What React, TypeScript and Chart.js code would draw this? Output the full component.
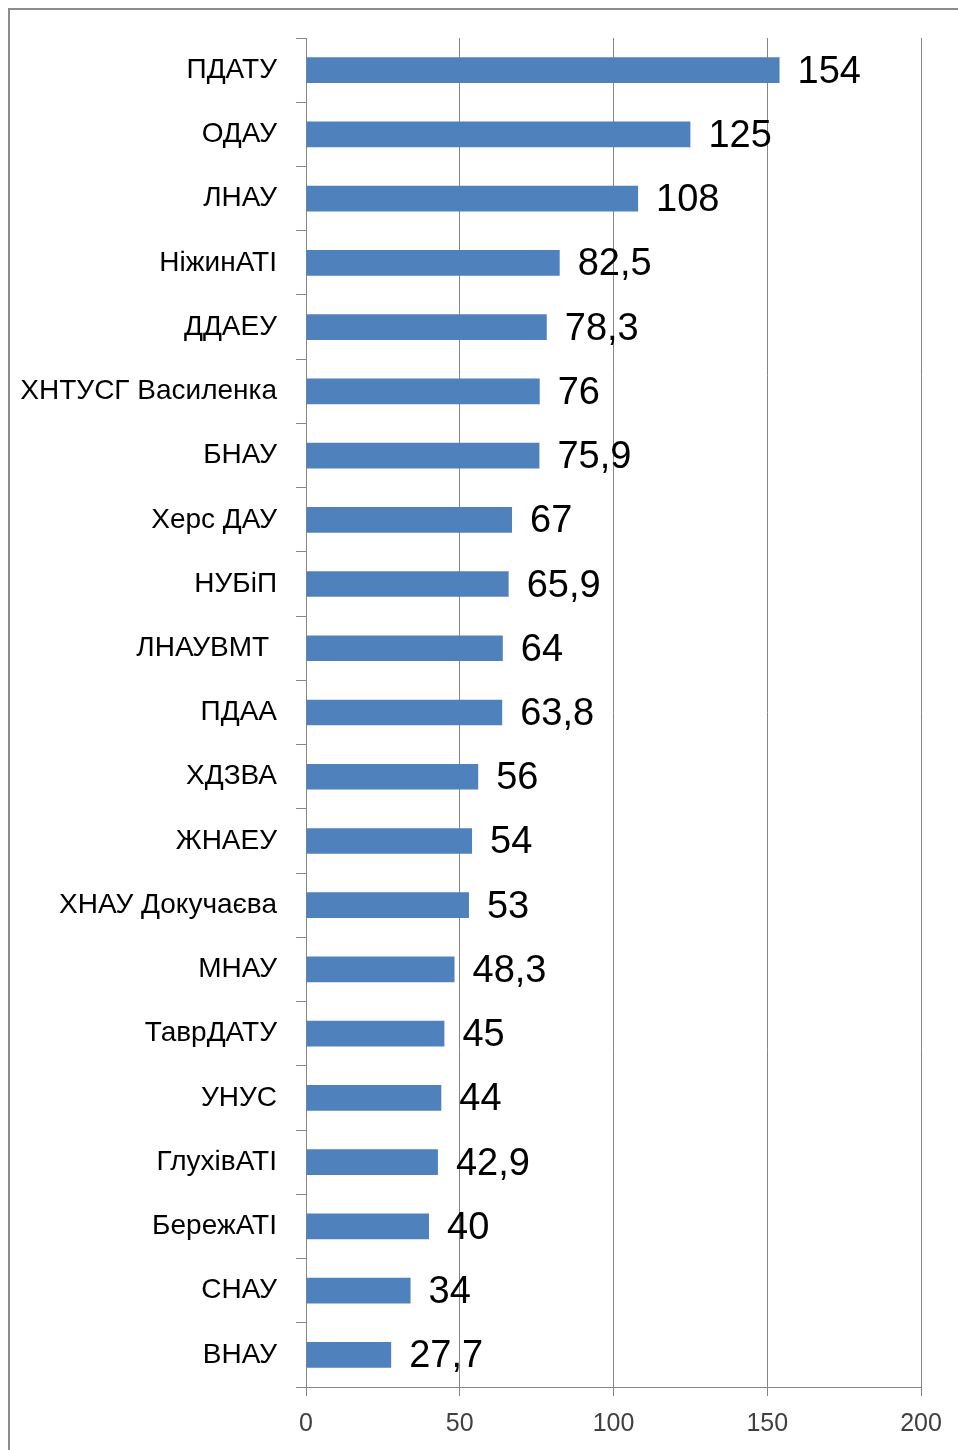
import React, { useEffect, useRef } from "react";
import { Chart, registerables } from "chart.js";

Chart.register(...registerables);

const categories: string[] = [
  "ПДАТУ",
  "ОДАУ",
  "ЛНАУ",
  "НіжинАТІ",
  "ДДАЕУ",
  "ХНТУСГ Василенка",
  "БНАУ",
  "Херс ДАУ",
  "НУБіП",
  "ЛНАУВМТ ",
  "ПДАА",
  "ХДЗВА",
  "ЖНАЕУ",
  "ХНАУ Докучаєва",
  "МНАУ",
  "ТаврДАТУ",
  "УНУС",
  "ГлухівАТІ",
  "БережАТІ",
  "СНАУ",
  "ВНАУ",
];

const values: number[] = [
  154, 125, 108, 82.5, 78.3, 76, 75.9, 67, 65.9, 64, 63.8, 56, 54, 53, 48.3, 45,
  44, 42.9, 40, 34, 27.7,
];

const xTicks: number[] = [0, 50, 100, 150, 200];

const FONT = "'Liberation Sans', Arial, sans-serif";
const GRID = "#868686";

const formatValue = (v: number) => String(v).replace(".", ",");

const valueLabels = {
  id: "valueLabels",
  afterDatasetsDraw(chart: any) {
    const ctx = chart.ctx;
    const meta = chart.getDatasetMeta(0);
    ctx.save();
    ctx.font = `38px ${FONT}`;
    ctx.fillStyle = "#000000";
    ctx.textAlign = "left";
    ctx.textBaseline = "middle";
    meta.data.forEach((bar: any, i: number) => {
      ctx.fillText(formatValue(values[i]), bar.x + 18, bar.y + 2);
    });
    ctx.restore();
  },
};

export default function App() {
  const ref = useRef<HTMLCanvasElement | null>(null);

  useEffect(() => {
    if (!ref.current) return;
    const chart = new Chart(ref.current, {
      type: "bar",
      data: {
        labels: categories,
        datasets: [
          {
            data: values,
            backgroundColor: "#4F81BD",
            borderWidth: 0,
            categoryPercentage: 1,
            barPercentage: 0.4,
          },
        ],
      },
      options: {
        indexAxis: "y",
        responsive: false,
        animation: false,
        devicePixelRatio: 1,
        layout: { padding: { top: 28, right: 37, left: 0, bottom: 0 } },
        plugins: {
          legend: { display: false },
          tooltip: { enabled: false },
          title: { display: false },
        },
        scales: {
          x: {
            type: "linear",
            min: 0,
            max: 200,
            afterBuildTicks: (scale: any) => {
              scale.ticks = xTicks.map((v) => ({ value: v }));
            },
            afterFit: (scale: any) => {
              scale.height = 63;
              scale.paddingLeft = 0;
              scale.paddingRight = 0;
            },
            ticks: {
              color: "#404040",
              font: { family: FONT, size: 25 },
              padding: 13,
            },
            grid: {
              color: GRID,
              lineWidth: 1,
              tickLength: 9,
              drawTicks: true,
            },
            border: { display: true, color: GRID },
          },
          y: {
            afterFit: (scale: any) => {
              scale.width = 296;
              scale.paddingTop = 0;
              scale.paddingBottom = 0;
            },
            ticks: {
              color: "#000000",
              font: { family: FONT, size: 28 },
              padding: 19,
              autoSkip: false,
            },
            grid: {
              offset: true,
              drawOnChartArea: false,
              color: GRID,
              tickLength: 10,
            },
            border: { display: true, color: GRID },
          },
        },
      },
      plugins: [valueLabels],
    });
    return () => chart.destroy();
  }, []);

  return (
    <div
      style={{
        position: "fixed",
        left: 8,
        top: 8,
        width: 950,
        height: 1442,
        borderLeft: "2px solid #8c8c8c",
        borderTop: "2px solid #8c8c8c",
        boxSizing: "border-box",
        background: "#ffffff",
      }}
    >
      <canvas ref={ref} width={948} height={1440} style={{ display: "block" }} />
    </div>
  );
}
